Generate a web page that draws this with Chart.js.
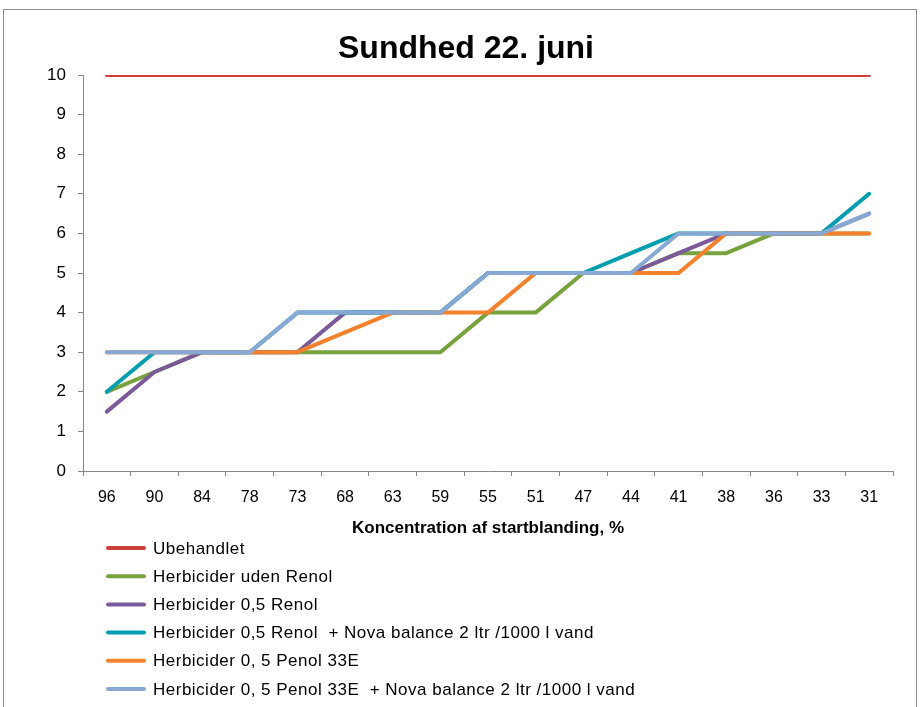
<!DOCTYPE html>
<html>
<head>
<meta charset="utf-8">
<script src="https://cdn.jsdelivr.net/npm/chart.js@4"></script>
<style>
  body { margin: 0; background: #fff; }
  #wrap { position: absolute; left: 0; top: 0; width: 921px; height: 707px; }
</style>
</head>
<body>
<div id="wrap"><canvas id="myChart" width="921" height="707"></canvas></div>
<script>
let categories = ['96', '90', '84', '78', '73', '68', '63', '59', '55', '51', '47', '44', '41', '38', '36', '33', '31'];
let seriesNames = [
    'Ubehandlet',
    'Herbicider uden Renol',
    'Herbicider 0,5 Renol',
    'Herbicider 0,5 Renol  + Nova balance 2 ltr /1000 l vand',
    'Herbicider 0, 5 Penol 33E',
    'Herbicider 0, 5 Penol 33E  + Nova balance 2 ltr /1000 l vand'
];
let ubehandlet = [10, 10, 10, 10, 10, 10, 10, 10, 10, 10, 10, 10, 10, 10, 10, 10, 10];
let udenRenol = [2, 2.5, 3, 3, 3, 3, 3, 3, 4, 4, 5, 5, 5.5, 5.5, 6, 6, 6];
let renol = [1.5, 2.5, 3, 3, 3, 4, 4, 4, 5, 5, 5, 5, 5.5, 6, 6, 6, 6.5];
let renolNova = [2, 3, 3, 3, 4, 4, 4, 4, 5, 5, 5, 5.5, 6, 6, 6, 6, 7];
let penol = [3, 3, 3, 3, 3, 3.5, 4, 4, 4, 5, 5, 5, 5, 6, 6, 6, 6];
let penolNova = [3, 3, 3, 3, 4, 4, 4, 4, 5, 5, 5, 5, 6, 6, 6, 6, 6.5];
let yTicks = [0, 1, 2, 3, 4, 5, 6, 7, 8, 9, 10];

let chartTitle = 'Sundhed 22. juni';
let colors = ['#CC3F3C', '#77A23E', '#7B5A9A', '#029EAF', '#F3812D', '#88A9D3'];
let allSeries = [ubehandlet, udenRenol, renol, renolNova, penol, penolNova];

let fontName = "'Liberation Sans', Arial, sans-serif";

let datasets = allSeries.map((vals, i) => ({
    label: seriesNames[i],
    data: vals,
    borderColor: colors[i],
    backgroundColor: colors[i],
    borderWidth: 4,
    pointRadius: 0,
    tension: 0,
    fill: false,
    borderJoinStyle: 'round',
    borderCapStyle: 'round',
    order: allSeries.length - i   // last series on top, like the original
}));

// frame, title and the vertical legend (drawn by hand, the built-in legend can't stack like this)
let frameAndLegend = {
    id: 'frameAndLegend',
    beforeDraw(chart) {
        let ctx = chart.ctx;
        ctx.save();
        ctx.fillStyle = '#fff';
        ctx.fillRect(0, 0, chart.width, chart.height);
        ctx.strokeStyle = '#8c8c8c';
        ctx.lineWidth = 1;
        ctx.strokeRect(3.5, 9.5, 913, 720);
        ctx.restore();
    },
    afterDraw(chart) {
        let ctx = chart.ctx;
        ctx.save();
        ctx.fillStyle = '#000';
        ctx.font = 'bold 32px ' + fontName;
        ctx.textAlign = 'center';
        ctx.textBaseline = 'alphabetic';
        ctx.fillText(chartTitle, 466, 58);

        ctx.textAlign = 'left';
        ctx.font = '17px ' + fontName;
        ctx.letterSpacing = '0.5px';
        ctx.textBaseline = 'middle';
        chart.data.datasets.forEach((ds, i) => {
            let y = 548 + i * 28.2;
            ctx.strokeStyle = ds.borderColor;
            ctx.lineWidth = 4;
            ctx.lineCap = 'round';
            ctx.beginPath();
            ctx.moveTo(108, y);
            ctx.lineTo(144, y);
            ctx.stroke();
            ctx.fillStyle = '#000';
            ctx.fillText(ds.label, 153, y + 1);
        });
        ctx.restore();
    }
};

let linechart = document.getElementById('myChart').getContext('2d');

let chart = new Chart(linechart, {
    type: 'line',
    data: {
        labels: categories,
        datasets: datasets
    },
    plugins: [frameAndLegend],
    options: {
        responsive: false,
        animation: false,
        layout: {
            padding: { left: 0, right: 28, top: 75, bottom: 166 }
        },
        plugins: {
            title: { display: false },
            legend: { display: false },
            tooltip: { enabled: false }
        },
        scales: {
            x: {
                offset: true,
                grid: {
                    display: true,
                    offset: true,
                    drawOnChartArea: false,
                    drawTicks: true,
                    tickLength: 5,
                    color: '#868686'
                },
                border: { color: '#868686', width: 1 },
                ticks: {
                    color: '#000',
                    font: { family: fontName, size: 16 },
                    padding: 12,
                    maxRotation: 0,
                    autoSkip: false
                },
                title: {
                    display: true,
                    text: 'Koncentration af startblanding, %',
                    color: '#000',
                    font: { family: fontName, size: 17, weight: 'bold' },
                    padding: { top: 4, bottom: 2 }
                },
                afterFit(scale) { scale.height = 70; }
            },
            y: {
                min: 0,
                max: 10,
                afterBuildTicks(scale) {
                    scale.ticks = yTicks.map(v => ({ value: v }));
                },
                grid: {
                    display: true,
                    drawOnChartArea: false,
                    drawTicks: true,
                    tickLength: 5,
                    color: '#868686'
                },
                border: { color: '#868686', width: 1 },
                ticks: {
                    color: '#000',
                    font: { family: fontName, size: 17 },
                    padding: 12
                },
                afterFit(scale) { scale.width = 83; }
            }
        }
    }
});
</script>
</body>
</html>
